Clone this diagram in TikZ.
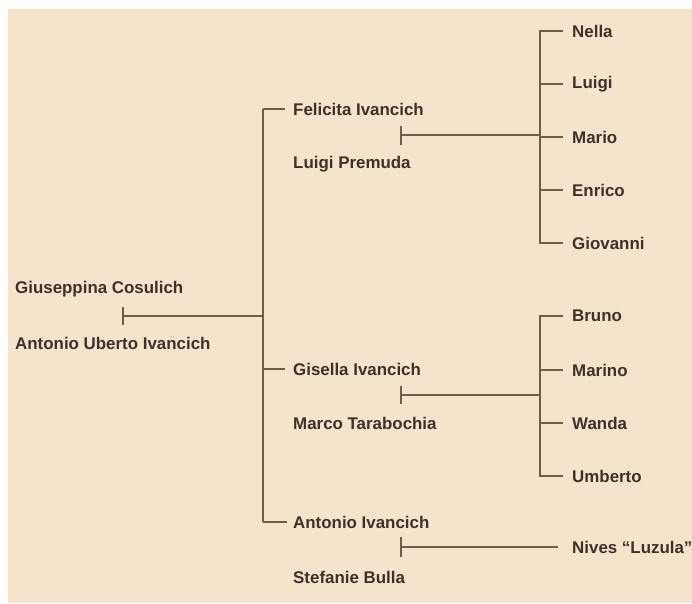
\documentclass[tikz,border=0pt]{standalone}
\usepackage{fontspec}
\setmainfont{Liberation Sans}
\definecolor{bg}{HTML}{F5E3CC}
\definecolor{ink}{HTML}{3E3129}
\definecolor{wire}{HTML}{6F5C4A}
\begin{document}
\begin{tikzpicture}[x=1pt,y=-1pt,
  person/.style={anchor=west,inner sep=0pt,font=\fontsize{16.9}{18}\selectfont\bfseries,text=ink},
  wire/.style={draw=wire,line width=1.5pt},
  tick/.style={draw=wire,line width=1.8pt}]
\useasboundingbox (0,0) rectangle (692,603);
\fill[white] (0,0) rectangle (692,603);
\fill[bg] (8,9) rectangle (692,603);
% generation 1
\node[person] (gc) at (15,289) {Giuseppina Cosulich};
\node[person] (aui) at (15,343) {Antonio Uberto Ivancich};
\coordinate (m0) at (123,316);
\draw[tick] (123,307) -- (123,325);
% trunk
\coordinate (ttop) at (263,109);
\coordinate (tbot) at (263,522);
\draw[wire] (ttop) -- (tbot);
\draw[wire] (m0) -- (263,316);
% generation 2
\node[person] (fi) at (293,109) {Felicita Ivancich};
\node[person] (lp) at (293,164) {Luigi Premuda};
\node[person] (gi) at (293,369) {Gisella Ivancich};
\node[person] (mt) at (293,423) {Marco Tarabochia};
\node[person] (ai) at (293,522) {Antonio Ivancich};
\node[person] (sb) at (293,577) {Stefanie Bulla};
\draw[wire] (ttop) -- ([xshift=-8pt]fi.west);
\draw[wire] (263,369) -- ([xshift=-8pt]gi.west);
\draw[wire] (tbot) -- ([xshift=-6pt]ai.west);
% couples
\coordinate (m1) at (401,135);
\coordinate (m2) at (401,395);
\coordinate (m3) at (401,547);
\draw[tick] (401,126) -- (401,145);
\draw[tick] (401,386) -- (401,404);
\draw[tick] (401,537) -- (401,557);
% children of m1
\node[person] (c1) at (572,31) {Nella};
\node[person] (c2) at (572,84) {Luigi};
\node[person] (c3) at (572,137) {Mario};
\node[person] (c4) at (572,190) {Enrico};
\node[person] (c5) at (572,243) {Giovanni};
\coordinate (v1) at (540,135);
\draw[wire] (m1) -- (v1);
\draw[wire] ([xshift=-9pt]c1.west) -| (540,243) -- ([xshift=-9pt]c5.west);
\foreach \c in {c2,c3,c4} \draw[wire] (540,0 |- \c.west) -- ([xshift=-9pt]\c.west);
% children of m2
\node[person] (d1) at (572,316) {Bruno};
\node[person] (d2) at (572,370) {Marino};
\node[person] (d3) at (572,423) {Wanda};
\node[person] (d4) at (572,476) {Umberto};
\coordinate (v2) at (540,395);
\draw[wire] (m2) -- (v2);
\draw[wire] ([xshift=-9pt]d1.west) -| (540,476) -- ([xshift=-9pt]d4.west);
\foreach \c in {d2,d3} \draw[wire] (540,0 |- \c.west) -- ([xshift=-9pt]\c.west);
% child of m3
\node[person] (e1) at (572,547) {Nives ``Luzula''};
\draw[wire] (m3) -- ([xshift=-14pt]e1.west);
\end{tikzpicture}
\end{document}
